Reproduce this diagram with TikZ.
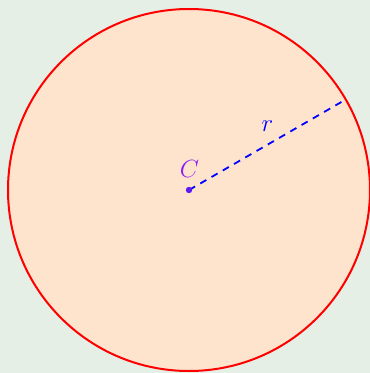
\documentclass[tikz,border=0pt]{standalone}
\usepackage{fontspec}
\definecolor{bggreen}{HTML}{E5EFE5}
\definecolor{peach}{HTML}{FFE4CD}
\definecolor{dotcol}{HTML}{5A1AF0}
\definecolor{cviolet}{HTML}{8C1EF5}
\tikzset{
  circ/.style={draw=red, line width=2pt, fill=peach},
  radius line/.style={blue, line width=1.8pt, dash pattern=on 7pt off 6pt},
  lbl/.style={font=\fontsize{27.5}{30}\selectfont, inner sep=0pt}
}
\begin{document}
\begin{tikzpicture}[x=1pt,y=-1pt]
\fill[bggreen] (0,0) rectangle (370,373);
\useasboundingbox (0,0) rectangle (370,373);
\coordinate (O) at (189,190);
\draw[circ] (O) circle[radius=181];
\coordinate (P) at (345.75,99.5);
\draw[radius line] (O) -- (P);
\fill[dotcol] (O) circle[radius=3.2];
\node[lbl, text=cviolet] (C) at (189.5,168.5) {$C$};
\node[lbl, text=blue] (r) at (267.5,126) {$r$};
\end{tikzpicture}
\end{document}
